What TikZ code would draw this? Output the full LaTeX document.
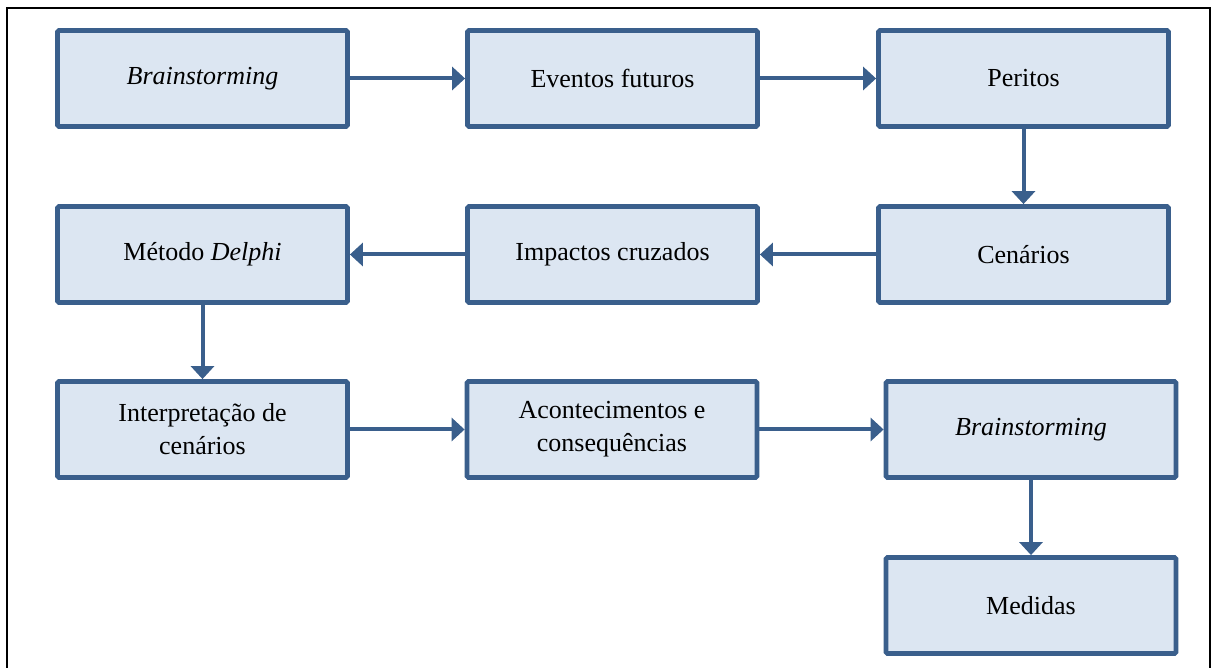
\documentclass[tikz,border=0pt]{standalone}
\usepackage{fontspec}
\setmainfont{Liberation Serif}
\usetikzlibrary{arrows.meta}

\definecolor{azul}{HTML}{3A5F8C}
\definecolor{azulclaro}{HTML}{DCE6F2}

\tikzset{
  etapa/.style={draw=azul, fill=azulclaro, line width=2.4pt, rounded corners=0.8pt,
    minimum width=145pt, minimum height=48pt, align=center,
    font=\fontsize{13}{16.5}\selectfont},
  seta/.style={draw=azul, line width=2pt, -{Triangle[length=6.5pt,width=11.5pt]}}
}

\begin{document}
\begin{tikzpicture}[x=0.5pt, y=-0.5pt]
\useasboundingbox (0,0) rectangle (1212,668);
% moldura
\draw[line width=1pt] (7,668) -- (7,8) -- (1210,8) -- (1210,668);

\node[etapa] (brain1) at (202.5,78.5) {\textit{Brainstorming}};
\node[etapa] (eventos) at (612.5,78.5) {Eventos futuros};
\node[etapa] (peritos) at (1023.5,78.5) {Peritos};

\node[etapa] (delphi) at (202.5,254.5) {Método \textit{Delphi}};
\node[etapa] (impactos) at (612.5,254.5) {Impactos cruzados};
\node[etapa] (cenarios) at (1023.5,254.5) {Cenários};

\node[etapa] (interp) at (202.5,429.5) {Interpretação de\\cenários};
\node[etapa] (acont) at (612,429.5) {Acontecimentos e\\consequências};
\node[etapa] (brain2) at (1031,429.5) {\textit{Brainstorming}};

\node[etapa] (medidas) at (1031,605.5) {Medidas};

\draw[seta] (brain1) -- (eventos);
\draw[seta] (eventos) -- (peritos);
\draw[seta] (peritos) -- (cenarios);
\draw[seta] (cenarios) -- (impactos);
\draw[seta] (impactos) -- (delphi);
\draw[seta] (delphi) -- (interp);
\draw[seta] (interp) -- (acont);
\draw[seta] (acont) -- (brain2);
\draw[seta] (brain2) -- (medidas);
\end{tikzpicture}
\end{document}
